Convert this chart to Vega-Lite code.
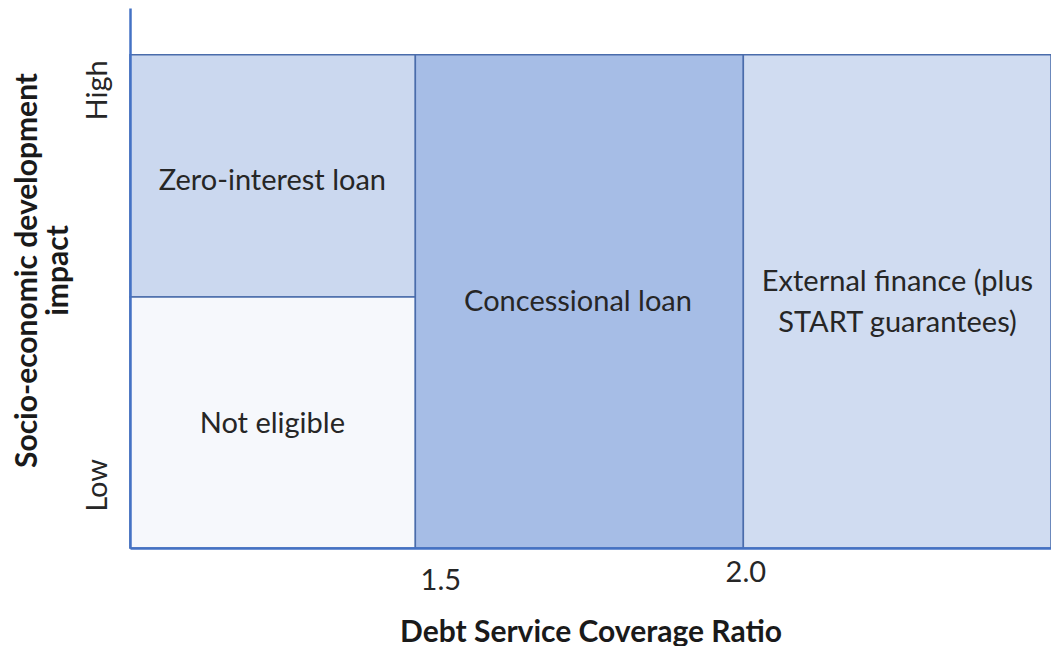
{
  "$schema": "https://vega.github.io/schema/vega-lite/v6.json",
  "autosize": "none",
  "width": 921,
  "height": 540,
  "padding": {"left": 130, "top": 8, "right": 0, "bottom": 98},
  "background": "white",
  "config": {"view": {"stroke": null}, "font": "Lato"},
  "datasets": {
    "cells": [
      {"cell": "Zero-interest loan", "x1": 1.065, "x2": 1.5, "y1": 0.509, "y2": 1.0},
      {"cell": "Not eligible", "x1": 1.065, "x2": 1.5, "y1": 0.0, "y2": 0.509},
      {"cell": "Concessional loan", "x1": 1.5, "x2": 2.0, "y1": 0.0, "y2": 1.0},
      {"cell": "External finance", "x1": 2.0, "x2": 2.469, "y1": 0.0, "y2": 1.0}
    ],
    "labels": [
      {"label": "Zero-interest loan", "lx": 1.282, "ly": 0.745},
      {"label": "Not eligible", "lx": 1.282, "ly": 0.2515},
      {"label": "Concessional loan", "lx": 1.748, "ly": 0.499},
      {"label": "External finance (plus\nSTART guarantees)", "lx": 2.235, "ly": 0.5396}
    ]
  },
  "layer": [
    {
      "data": {"name": "cells"},
      "mark": {"type": "rect", "stroke": "#4a6cab", "strokeWidth": 1.5},
      "encoding": {
        "x": {
          "field": "x1", "type": "quantitative",
          "scale": {"domain": [1.065, 2.469], "nice": false, "zero": false},
          "axis": {
            "values": [1.5, 2.0],
            "format": ".1f",
            "ticks": false,
            "grid": false,
            "domainColor": "#4472c4",
            "domainWidth": 2.5,
            "zindex": 1,
            "labelFont": "Lato",
            "labelFontSize": 29,
            "labelColor": "#262626",
            "labelOffset": {"condition": {"test": "datum.value == 1.5", "value": 25}, "value": 2},
            "labelPadding": {"condition": {"test": "datum.value == 1.5", "value": 18}, "value": 10},
            "title": "Debt Service Coverage Ratio",
            "titleFont": "Lato",
            "titleFontSize": 30,
            "titleFontWeight": "bold",
            "titleColor": "#1a1a1a",
            "titlePadding": 22
          }
        },
        "x2": {"field": "x2"},
        "y": {
          "field": "y1", "type": "quantitative",
          "scale": {"domain": [0, 1.095], "nice": false},
          "axis": {
            "values": [0.128, 0.929],
            "labelExpr": "datum.value > 0.5 ? 'High' : 'Low'",
            "ticks": false,
            "grid": false,
            "domainColor": "#4472c4",
            "domainWidth": 2.5,
            "zindex": 1,
            "labelAngle": -90,
            "labelAlign": "center",
            "labelBaseline": "bottom",
            "labelFont": "Lato",
            "labelFontSize": 29,
            "labelColor": "#262626",
            "labelPadding": 18,
            "title": ["Socio-economic development", "impact"],
            "titleFont": "Lato",
            "titleFontSize": 30,
            "titleFontWeight": "bold",
            "titleColor": "#1a1a1a",
            "titleLineHeight": 31,
            "titlePadding": 10,
            "titleY": 262
          }
        },
        "y2": {"field": "y2"},
        "color": {
          "field": "cell", "type": "nominal", "legend": null,
          "scale": {
            "domain": ["Zero-interest loan", "Not eligible", "Concessional loan", "External finance"],
            "range": ["#cbd8ef", "#f6f8fc", "#a6bde6", "#d0dcf1"]
          }
        }
      }
    },
    {
      "data": {"name": "labels"},
      "mark": {"type": "text", "font": "Lato", "fontSize": 29, "color": "#262626", "lineBreak": "\n", "lineHeight": 41, "align": "center", "baseline": "middle"},
      "encoding": {
        "x": {"field": "lx", "type": "quantitative"},
        "y": {"field": "ly", "type": "quantitative"},
        "text": {"field": "label"}
      }
    }
  ]
}
